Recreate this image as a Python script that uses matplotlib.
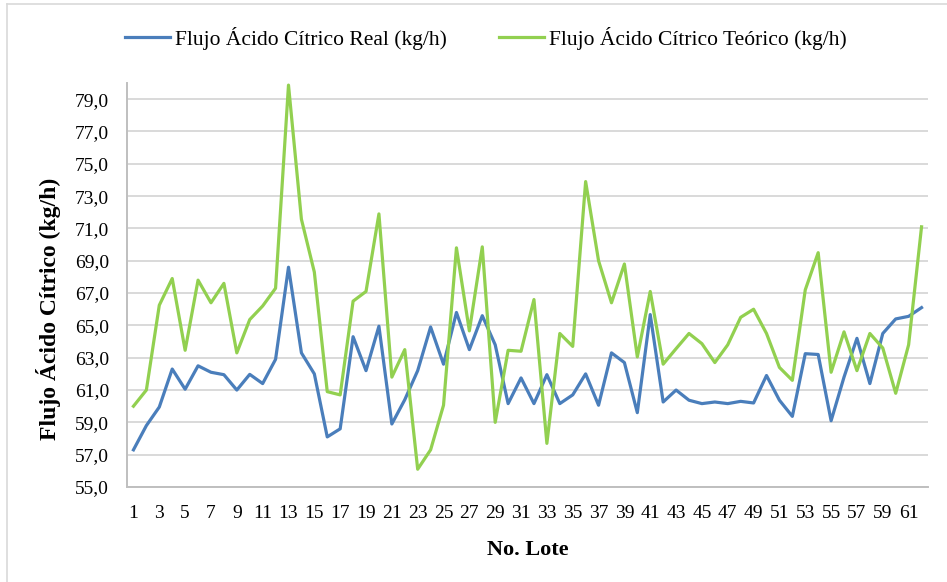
import matplotlib
matplotlib.use("Agg")
import matplotlib.pyplot as plt
from matplotlib.lines import Line2D

lotes = list(range(1, 63))

real = [57.3, 58.8, 59.95, 62.3, 61.05, 62.5, 62.1, 61.95, 61.0, 61.97,
        61.4, 62.9, 68.6, 63.3, 62.0, 58.1, 58.6, 64.3, 62.2, 64.95,
        58.9, 60.4, 62.2, 64.9, 62.6, 65.8, 63.5, 65.6, 63.8, 60.16,
        61.75, 60.16, 61.95, 60.16, 60.7, 62.0, 60.06, 63.3, 62.7, 59.6,
        65.67, 60.26, 61.0, 60.37, 60.16, 60.26, 60.16, 60.3, 60.2, 61.9,
        60.37, 59.37, 63.25, 63.2, 59.1, 61.8, 64.2, 61.4, 64.5, 65.4,
        65.56, 66.1]

teorico = [60.0, 61.0, 66.25, 67.9, 63.46, 67.8, 66.4, 67.6, 63.3, 65.36,
           66.2, 67.3, 79.87, 71.57, 68.3, 60.9, 60.7, 66.5, 67.1, 71.9,
           61.8, 63.5, 56.1, 57.3, 60.06, 69.8, 64.66, 69.86, 59.0, 63.46,
           63.4, 66.6, 57.7, 64.5, 63.7, 73.9, 69.0, 66.4, 68.8, 63.05,
           67.1, 62.6, 63.56, 64.5, 63.87, 62.7, 63.8, 65.5, 66.0, 64.5,
           62.4, 61.6, 67.2, 69.5, 62.1, 64.6, 62.2, 64.5, 63.6, 60.8,
           63.8, 71.1]

y_ticks = [55, 57, 59, 61, 63, 65, 67, 69, 71, 73, 75, 77, 79]
x_ticks = list(range(1, 63, 2))

label_real = "Flujo Ácido Cítrico Real (kg/h)"
label_teo = "Flujo Ácido Cítrico Teórico (kg/h)"

serif = "Liberation Serif"
blue = "#4A7EBB"
green = "#92D050"
grid_c = "#D9D9D9"

W, H = 947, 582
fig = plt.figure(figsize=(W / 100, H / 100), dpi=100)

# chart-area frame (left and top edges)
fig.add_artist(Line2D([7 / W, 7 / W], [0, 1 - 4 / H], color="#D9D9D9", lw=1.2,
                      transform=fig.transFigure))
fig.add_artist(Line2D([7 / W, 1], [1 - 4 / H, 1 - 4 / H], color="#D9D9D9", lw=1.2,
                      transform=fig.transFigure))

ax = fig.add_axes([127 / W, 1 - 487 / H, 801 / W, 404 / H])

ax.plot(lotes, real, color=blue, lw=2.3, solid_joinstyle="round", label=label_real)
ax.plot(lotes, teorico, color=green, lw=2.3, solid_joinstyle="round", label=label_teo)

ax.set_xlim(0.5, 62.5)
ax.set_ylim(55, 80)
ax.set_yticks(y_ticks)
ax.set_yticklabels([f"{v:.1f}".replace(".", ",") for v in y_ticks],
                   fontfamily=serif, fontsize=14)
ax.set_xticks(x_ticks)
ax.set_xticklabels([str(v) for v in x_ticks], fontfamily=serif, fontsize=14)
ax.tick_params(axis="both", length=0)
ax.tick_params(axis="y", pad=13)
ax.tick_params(axis="x", pad=13)

ax.grid(axis="y", color=grid_c, lw=1.4)
ax.set_axisbelow(True)
for s in ("top", "right"):
    ax.spines[s].set_visible(False)
for s in ("left", "bottom"):
    ax.spines[s].set_color("#BFBFBF")
    ax.spines[s].set_linewidth(1.4)

ax.set_ylabel("Flujo Ácido Cítrico (kg/h)", fontfamily=serif, fontsize=17,
              fontweight="bold")
ax.yaxis.set_label_coords(-0.083, 0.44)
ax.set_xlabel("No. Lote", fontfamily=serif, fontsize=16, fontweight="bold")
ax.xaxis.set_label_coords(0.5, -0.13)

fig.legend(handles=ax.get_lines(), labels=[label_real, label_teo],
           loc="center", bbox_to_anchor=(486 / W, 1 - 38 / H), ncol=2,
           frameon=False, prop={"family": serif, "size": 15.5},
           handlelength=2.1, handletextpad=0.23, columnspacing=2.4)

fig.savefig("out.png", dpi=100, facecolor="white")
